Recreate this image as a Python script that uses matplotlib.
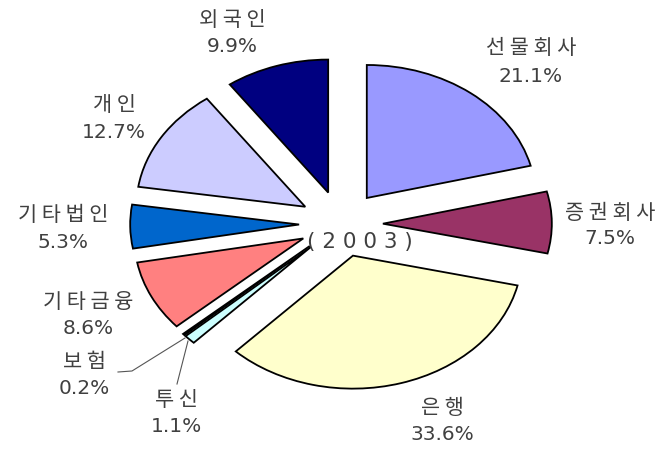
import matplotlib
matplotlib.use("Agg")
import matplotlib.pyplot as plt

plt.rcParams['font.family'] = ['Noto Sans CJK KR', 'DejaVu Sans']

categories = ["선물회사", "증권회사", "은행", "투신", "보험", "기타금융", "기타법인", "개인", "외국인"]
shares = [21.1, 7.5, 33.6, 1.1, 0.2, 8.6, 5.3, 12.7, 9.9]
colors = ["#9999FF", "#993366", "#FFFFCC", "#CCFFFF", "#660066",
          "#FF8080", "#0066CC", "#CCCCFF", "#000080"]
year_label = "(2003)"

W, H = 666, 450
CX, CY = 341, 224          # pie centre in pixels (origin top-left)
S = 1.27                   # horizontal stretch of the pie (elliptical pie)

fig = plt.figure(figsize=(W / 100, H / 100), dpi=100)
ax = fig.add_axes([0, 0, 1, 1])


def P(px, py):
    """pixel (top-left origin) -> data coordinates"""
    return CX + (px - CX) / S, H - py


ax.pie(shares, colors=colors, startangle=90, counterclock=False,
       center=(CX, H - CY), radius=133, explode=[33] * len(shares),
       wedgeprops=dict(edgecolor='black', linewidth=1.3), frame=True)
ax.set_aspect('auto')
ax.set_xlim(CX - CX / S, CX + (W - CX) / S)
ax.set_ylim(0, H)
ax.axis('off')

# label positions in pixels: (x, y_name, y_value)
label_pos = {
    "선물회사": (531, 48, 77),
    "증권회사": (610, 213, 239),
    "은행": (442, 408, 435),
    "투신": (176, 400, 427),
    "보험": (84, 362, 389),
    "기타금융": (88, 302, 328),
    "기타법인": (63, 215, 242),
    "개인": (114, 105, 133),
    "외국인": (232, 20, 47),
}
txtcol = '#404040'
fs = 15
for cat, val in zip(categories, shares):
    x, y1, y2 = label_pos[cat]
    ax.text(*P(x, y1), " ".join(cat), ha='center', va='center', fontsize=fs, color=txtcol)
    ax.text(*P(x, y2), f"{val}%", ha='center', va='center', fontsize=14.5,
            color=txtcol, family=['DejaVu Sans'])

# leader lines for the small slices
lx, ly = zip(*[P(118, 372), P(132, 371), P(185, 338)])
ax.plot(lx, ly, color='#555555', lw=0.8)
lx, ly = zip(*[P(177, 384), P(188, 341)])
ax.plot(lx, ly, color='#555555', lw=0.8)

ax.text(*P(360, 242), " ".join(year_label), ha='center', va='center',
        fontsize=15.5, color=txtcol, family=['DejaVu Sans'])

fig.savefig("out.png", dpi=100)
